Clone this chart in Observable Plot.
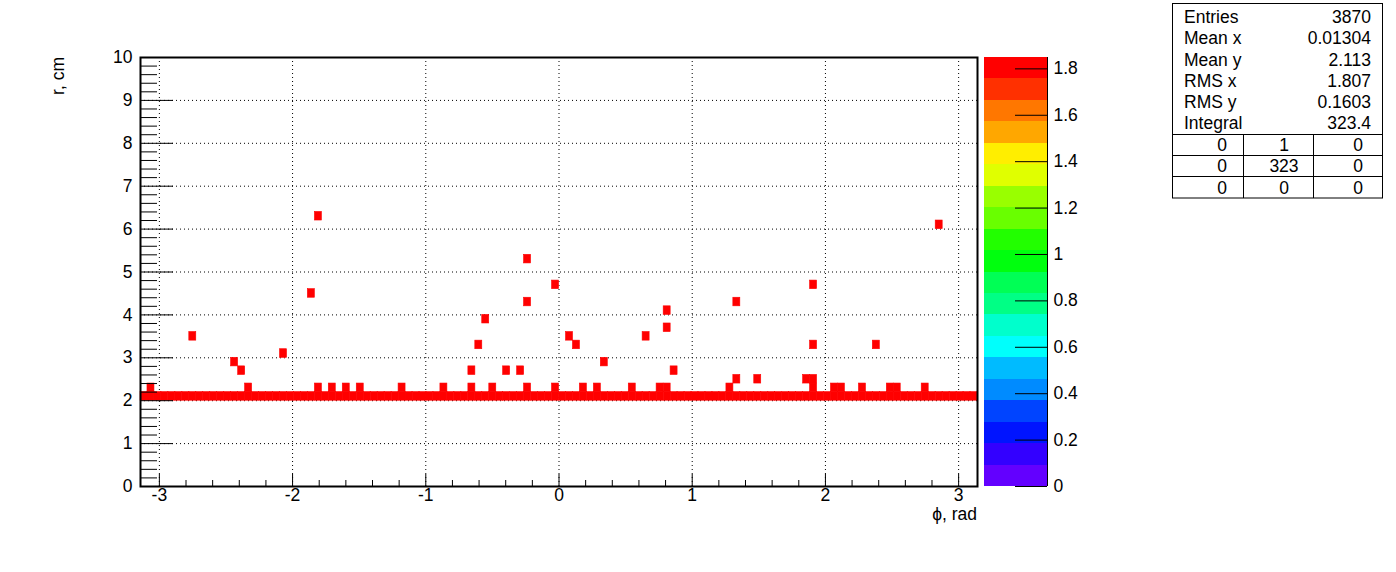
<!DOCTYPE html>
<html><head><meta charset="utf-8">
<script src="https://cdn.jsdelivr.net/npm/d3@7"></script>
<script src="https://cdn.jsdelivr.net/npm/@observablehq/plot@0.6"></script>
<style>
body{margin:0;background:#fff;}
#wrap{position:relative;width:1396px;height:572px;background:#fff;}
#wrap svg{position:absolute;left:0;top:0;}
</style></head><body><div id="wrap"></div>
<script>
// ---- data ----
const bandPhi = [-3.115,-3.063,-3.011,-2.959,-2.906,-2.854,-2.801,-2.749,-2.697,-2.644,
  -2.592,-2.539,-2.487,-2.435,-2.382,-2.330,-2.278,-2.225,-2.173,-2.120,
  -2.068,-2.016,-1.963,-1.911,-1.859,-1.806,-1.754,-1.702,-1.649,-1.597,
  -1.545,-1.492,-1.440,-1.387,-1.335,-1.283,-1.230,-1.178,-1.126,-1.073,
  -1.021,-0.969,-0.916,-0.864,-0.812,-0.759,-0.707,-0.654,-0.602,-0.550,
  -0.497,-0.445,-0.393,-0.340,-0.288,-0.236,-0.183,-0.131,-0.079,-0.026,
  0.026,0.079,0.131,0.183,0.236,0.288,0.340,0.393,0.445,0.497,
  0.550,0.602,0.654,0.707,0.759,0.812,0.864,0.916,0.969,1.021,
  1.073,1.126,1.178,1.230,1.283,1.335,1.387,1.440,1.492,1.545,
  1.597,1.649,1.702,1.754,1.806,1.859,1.911,1.963,2.016,2.068,
  2.120,2.173,2.225,2.278,2.330,2.382,2.435,2.487,2.539,2.592,
  2.644,2.697,2.749,2.801,2.854,2.906,2.959,3.011,3.063,3.115];
const bandR = 2.1;
const extraPhi = [
  -3.063,-2.330,-1.806,-1.702,-1.597,-1.492,-1.178,-0.864,-0.654,-0.497,-0.236,-0.026,0.183,0.288,0.550,0.759,0.812,1.283,1.911,2.068,2.120,2.278,2.487,2.539,2.749,
  1.335,1.492,1.859,1.911,
  -2.382,-0.654,-0.393,-0.288,0.864,
  -2.435,0.340,
  -2.068,
  -0.602,0.131,1.911,2.382,
  -2.749,0.079,0.654,
  0.812,
  -0.550,
  0.812,
  -0.236,1.335,
  -1.859,
  -0.026,1.911,
  -0.236,
  2.854,
  -1.806];
const extraR = [
  2.3,2.3,2.3,2.3,2.3,2.3,2.3,2.3,2.3,2.3,2.3,2.3,2.3,2.3,2.3,2.3,2.3,2.3,2.3,2.3,2.3,2.3,2.3,2.3,2.3,
  2.5,2.5,2.5,2.5,
  2.7,2.7,2.7,2.7,2.7,
  2.9,2.9,
  3.1,
  3.3,3.3,3.3,3.3,
  3.5,3.5,3.5,
  3.7,
  3.9,
  4.1,
  4.3,4.3,
  4.5,
  4.7,4.7,
  5.3,
  6.1,
  6.3];
const cellZ = 1.848;
const zMax = 1.849;
const paletteColors = ["#6300ff","#3300ff","#0014ff","#0044ff","#008bff","#00bbff","#00fffc","#00ffcc","#00ff85","#00ff55",
  "#00ff0e","#22ff00","#69ff00","#99ff00","#e0ff00","#ffee00","#ffa700","#ff7700","#ff3000","#ff0000"];
const xTickValues = [-3,-2,-1,0,1,2,3];
const xTickLabels = ["-3","-2","-1","0","1","2","3"];
const yTickValues = [0,1,2,3,4,5,6,7,8,9,10];
const yTickLabels = ["0","1","2","3","4","5","6","7","8","9","10"];
const zTickValues = [0,0.2,0.4,0.6,0.8,1.0,1.2,1.4,1.6,1.8];
const zTickLabels = ["0","0.2","0.4","0.6","0.8","1","1.2","1.4","1.6","1.8"];
const xTitle = "\u03D5, rad";
const yTitle = "r, cm";
const statLabels = ["Entries","Mean x","Mean y","RMS x","RMS y","Integral"];
const statValues = ["3870","0.01304","2.113","1.807","0.1603","323.4"];
const statGrid = [["0","1","0"],["0","323","0"],["0","0","0"]];

// ---- layout ----
const W = 1396, H = 572;
const FONT = '"Liberation Sans", Arial, Helvetica, sans-serif';
const binW = 2*Math.PI/120, binH = 0.2;
const frameL = 140, frameR = 977, frameT = 57, frameB = 486;
const cells = bandPhi.map(p => ({phi: p, r: bandR, z: cellZ}))
  .concat(extraPhi.map((p, i) => ({phi: p, r: extraR[i], z: cellZ})));
const colorScale = {type: "threshold", domain: d3.range(1, 20).map(k => k*zMax/20), range: paletteColors};
const xMinor = d3.range(-31, 32).map(k => k/10).filter(v => Math.abs(v*5 - Math.round(v*5)) < 1e-9 && Math.abs(v - Math.round(v)) > 1e-9 && v > -Math.PI && v < Math.PI);
const yMinor = d3.range(1, 50).map(k => k/5).filter(v => Math.abs(v - Math.round(v)) > 1e-9);
const plotH = frameB - frameT, plotW = frameR - frameL;
const dotted = {stroke: "black", strokeWidth: 1, strokeDasharray: "1,3"};

const main = Plot.plot({
  width: W, height: H,
  marginLeft: frameL, marginRight: W - frameR, marginTop: frameT, marginBottom: H - frameB,
  x: {domain: [-Math.PI, Math.PI], axis: null},
  y: {domain: [0, 10], axis: null},
  color: colorScale,
  style: {background: "transparent", fontFamily: FONT, color: "black"},
  marks: [
    Plot.ruleX(xTickValues, dotted),
    Plot.ruleY(yTickValues.filter(v => v > 0 && v < 10), dotted),
    Plot.rect(cells, {x1: d => d.phi - binW/2, x2: d => d.phi + binW/2, y1: d => d.r - binH/2, y2: d => d.r + binH/2, fill: "z", stroke: "z", strokeWidth: 0.6}),
    Plot.ruleX(xTickValues, {stroke: "black", insetTop: plotH - 12}),
    Plot.ruleX(xMinor, {stroke: "black", insetTop: plotH - 6}),
    Plot.ruleY(yTickValues, {stroke: "black", insetRight: plotW - 33}),
    Plot.ruleY(yMinor, {stroke: "black", insetRight: plotW - 17}),
    Plot.frame({stroke: "black", strokeWidth: 2}),
    Plot.text(xTickLabels, {x: (d, i) => xTickValues[i], y: 0, text: d => d, dy: 9, textAnchor: "middle", lineAnchor: "middle", fontSize: 17.5, fill: "black"}),
    Plot.text(yTickLabels, {x: -Math.PI, y: (d, i) => yTickValues[i], text: d => d, dx: -8, textAnchor: "end", lineAnchor: "middle", fontSize: 17.5, fill: "black"})
  ]
});

const bar = Plot.plot({
  width: W, height: H,
  marginLeft: 984, marginRight: W - 1047, marginTop: frameT, marginBottom: H - frameB,
  x: {domain: [0, 1], axis: null},
  y: {domain: [0, zMax], axis: null},
  color: colorScale,
  style: {background: "transparent", fontFamily: FONT, color: "black"},
  marks: [
    Plot.rect(paletteColors, {x1: 0, x2: 1, y1: (d, k) => k*zMax/20, y2: (d, k) => (k+1)*zMax/20, fill: (d, k) => (k+0.5)*zMax/20, shapeRendering: "crispEdges"}),
    Plot.ruleX([1], {stroke: "black"}),
    Plot.ruleY(zTickValues, {stroke: "black", insetLeft: 31}),
    Plot.text(zTickLabels, {x: 1, y: (d, i) => zTickValues[i], text: d => d, dx: 6, textAnchor: "start", lineAnchor: "middle", fontSize: 17.5, fill: "black"})
  ]
});

const annot = d3.create("svg").attr("width", W).attr("height", H).style("font-family", FONT);
annot.append("text").attr("x", frameR).attr("y", 520).attr("text-anchor", "end").attr("font-size", 17.5).text(xTitle);
annot.append("text").attr("transform", "translate(63.5,57) rotate(-90)").attr("text-anchor", "end").attr("font-size", 17.5).text(yTitle);
const bx = 1172.5, by = 3.5, bw = 210, bh = 194.5;
annot.append("rect").attr("x", bx).attr("y", by).attr("width", bw).attr("height", bh).attr("fill", "white").attr("stroke", "black");
statLabels.forEach((l, i) => {
  const cy = 17 + i*21.2;
  annot.append("text").attr("x", 1184).attr("y", cy).attr("dy", "0.35em").attr("font-size", 17.5).text(l);
  annot.append("text").attr("x", 1371).attr("y", cy).attr("dy", "0.35em").attr("text-anchor", "end").attr("font-size", 17.5).text(statValues[i]);
});
const lineYs = [134.5, 155.5, 176.5];
lineYs.forEach(y => annot.append("line").attr("x1", bx).attr("x2", bx + bw).attr("y1", y).attr("y2", y).attr("stroke", "black"));
[1243.5, 1313.5].forEach(x => annot.append("line").attr("x1", x).attr("x2", x).attr("y1", 134.5).attr("y2", by + bh).attr("stroke", "black"));
const colCenters = [1222, 1284, 1358];
statGrid.forEach((row, r) => row.forEach((v, c) => {
  annot.append("text").attr("x", colCenters[c]).attr("y", 145 + r*21.3).attr("dy", "0.35em").attr("text-anchor", "middle").attr("font-size", 17.5).text(v);
}));

const wrap = document.getElementById("wrap");
wrap.appendChild(main);
wrap.appendChild(bar);
wrap.appendChild(annot.node());
</script></body></html>
